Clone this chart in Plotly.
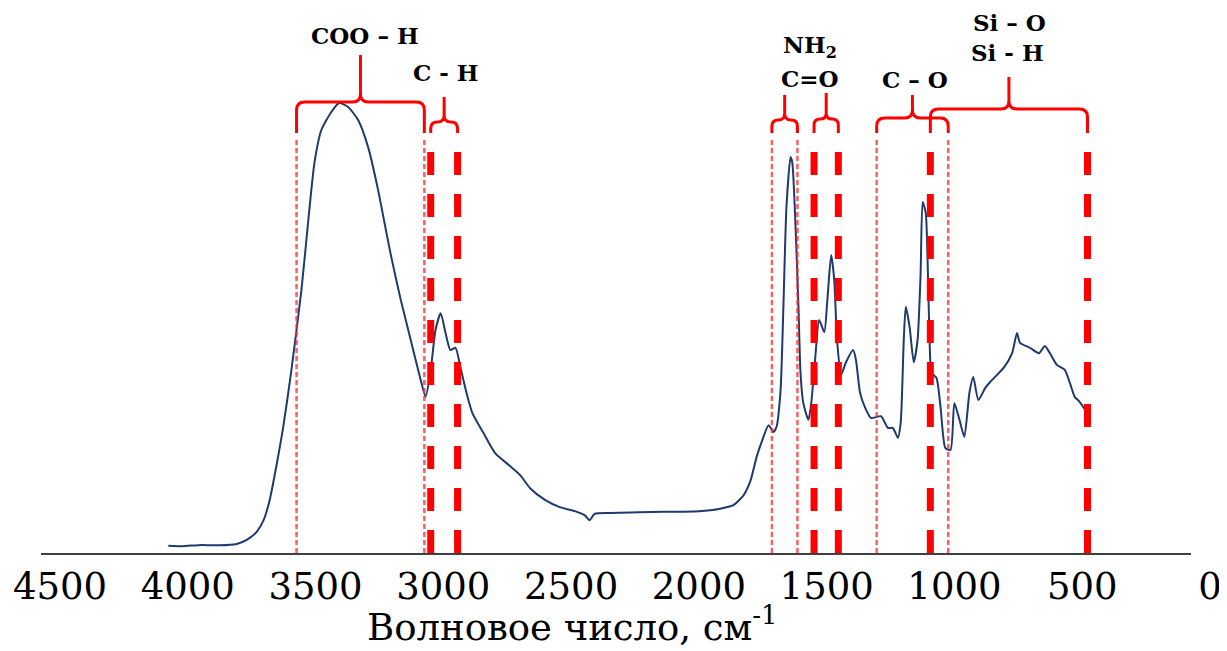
import plotly.graph_objects as go

# ---------------- data ----------------
wavenumber = [4002, 3950, 3870, 3800, 3734, 3695, 3656, 3629, 3605, 3578, 3551, 3520,
              3481, 3454, 3430, 3403, 3364, 3333, 3298, 3259, 3220, 3181, 3158, 3131,
              3092, 3053, 3014, 2995, 2975, 2956, 2936, 2917, 2898, 2878, 2859, 2831,
              2812, 2769, 2723, 2664, 2625, 2586, 2528, 2470, 2411, 2373, 2353, 2334,
              2275, 2120, 1925, 1847, 1789, 1750, 1723, 1700, 1680, 1653, 1634, 1622,
              1606, 1595, 1583, 1567, 1560, 1548, 1536, 1528, 1517, 1497, 1486, 1470,
              1455, 1435, 1423, 1408, 1396, 1385, 1369, 1350, 1322, 1311, 1295, 1276,
              1252, 1213, 1186, 1167, 1147, 1136, 1124, 1116, 1101, 1085, 1070, 1058,
              1050, 1038, 1031, 1023, 1015, 996, 980, 961, 941, 926, 906, 887, 867,
              852, 832, 805, 786, 731, 700, 681, 669, 630, 595, 572, 552, 525, 494,
              474, 455, 436, 408]
intensity = [1.6, 1.5, 1.8, 1.7, 2.0, 2.9, 4.7, 7.3, 11.8, 19.6, 28.4, 40.7,
             58.4, 74.0, 86.7, 94.0, 98.0, 100.0, 99.1, 96.2, 90.2, 80.7, 74.0, 66.2,
             56.2, 47.3, 38.4, 34.7, 40.7, 49.6, 53.3, 48.9, 45.1, 45.6, 41.3, 34.7,
             31.1, 26.7, 22.2, 19.3, 17.3, 14.4, 11.8, 10.2, 9.3, 8.4, 7.3, 8.7,
             8.9, 9.1, 9.3, 9.8, 10.7, 12.9, 16.2, 21.3, 24.7, 28.4, 26.9, 28.0,
             36.2, 54.7, 76.9, 88.0, 86.7, 73.3, 54.7, 40.0, 33.3, 29.6, 33.3, 43.6,
             51.8, 49.1, 56.2, 66.2, 60.7, 47.3, 39.6, 42.4, 45.1, 42.9, 35.6, 32.4,
             30.0, 30.4, 27.8, 27.8, 25.6, 28.9, 47.3, 54.7, 50.2, 42.4, 47.3, 62.2,
             78.0, 75.6, 65.8, 47.3, 40.0, 38.9, 32.4, 23.3, 22.9, 33.3, 29.6, 25.8, 35.6,
             39.1, 34.0, 36.7, 38.0, 41.3, 44.4, 48.9, 46.7, 45.6, 44.4, 46.0, 44.4, 41.8, 40.7,
             37.8, 34.7, 33.6, 31.3]

x_ticks = [4500, 4000, 3500, 3000, 2500, 2000, 1500, 1000, 500, 0]
x_title = "Волновое число, см<sup>-1</sup>"

# band edges (cm-1)
dotted_edges = [3500, 3000, 1640, 1540, 1230, 950]
dashed_edges = [2975, 2870, 1475, 1380, 1020, 405]

# bracket groups: (left edge, right edge)
bracket_bands = [(3500, 3000), (2975, 2870), (1640, 1540), (1475, 1380), (1230, 950), (1020, 405)]

band_labels = ["COO – H", "C - H", "NH<sub>2</sub>", "C=O", "C – O", "Si – O", "Si - H"]
label_wn = [3232, 2917, 1490, 1490, 1081, 712, 720]

# ---------------- geometry (pixels / styles) ----------------
OFF = 8                      # page body margin
W, H = 1227 - OFF, 651 - OFF
L, R, T, B = 38 - OFF, 1195 - OFF, 13 - OFF, 553 - OFF
YMAX = 120
kx = 4500 / (R - L)      # cm-1 per px
ky = YMAX / (B - T)      # units per px


def yv(py_page):
    return (B - (py_page - OFF)) * ky


bracket_geom = [  # (horizontal y px, stem top y px) in page pixels
    (102, 55), (122, 97), (120, 95), (119, 93), (118, 95), (109, 77)
]
leg_bottom_px = 133
line_top_px = 137
label_py = [35, 72, 46, 78, 79, 22, 52]

fig = go.Figure()
fig.add_trace(go.Scatter(x=wavenumber, y=intensity, mode="lines",
                         line=dict(color="#1f3a6e", width=2, shape="spline", smoothing=0.6),
                         hoverinfo="skip", showlegend=False))

shapes = []
for e in dotted_edges:
    shapes.append(dict(type="line", xref="x", yref="y", x0=e, x1=e,
                       y0=0, y1=yv(line_top_px),
                       line=dict(color="rgba(255,40,40,0.75)", width=2.5, dash="5px,3px")))
for e in dashed_edges:
    shapes.append(dict(type="line", xref="x", yref="y", x0=e, x1=e,
                       y0=0, y1=yv(line_top_px),
                       line=dict(color="#ff0000", width=7, dash="23px,19px")))


def brace_path(a, b, yh, yt, yb, rpx):
    c = (a + b) / 2
    rx, ry = rpx * kx, rpx * ky
    p = (f"M {a},{yb} L {a},{yh - ry} Q {a},{yh} {a - rx},{yh} "
         f"L {c + rx},{yh} Q {c},{yh} {c},{yh + ry} L {c},{yt} "
         f"M {c},{yh + ry} Q {c},{yh} {c - rx},{yh} "
         f"L {b + rx},{yh} Q {b},{yh} {b},{yh - ry} L {b},{yb}")
    return p


for (a, b), (hpx, tpx) in zip(bracket_bands, bracket_geom):
    widthpx = (a - b) / kx
    r = min(8, widthpx / 4)
    shapes.append(dict(type="path", xref="x", yref="y",
                       path=brace_path(a, b, yv(hpx), yv(tpx), yv(leg_bottom_px), r),
                       line=dict(color="#ff0000", width=3)))

annotations = []
for txt, wn, py in zip(band_labels, label_wn, label_py):
    annotations.append(dict(x=wn, y=yv(py), xref="x", yref="y", text=txt,
                            showarrow=False, xanchor="center", yanchor="middle",
                            font=dict(family="DejaVu Serif", size=23, color="black",
                                      weight="bold")))
annotations.append(dict(x=(573 - OFF - L) / (R - L), y=(B - (650 - OFF)) / (B - T),
                        xref="paper", yref="paper",
                        text=x_title, showarrow=False, xanchor="center", yanchor="bottom",
                        borderpad=0,
                        font=dict(family="DejaVu Serif", size=37, color="black")))

fig.update_layout(
    width=W, height=H,
    margin=dict(l=L, r=W - R, t=T, b=H - B, pad=0),
    paper_bgcolor="white", plot_bgcolor="white",
    shapes=shapes, annotations=annotations,
    xaxis=dict(range=[4500, 0], tickvals=x_ticks, ticktext=[str(v) for v in x_ticks],
               showgrid=False, zeroline=False, showline=True, linecolor="#404040",
               linewidth=2, ticks="", ticklabelshift=-19, ticklabeloverflow="allow",
               tickfont=dict(family="DejaVu Serif", size=37, color="black")),
    yaxis=dict(range=[0, YMAX], visible=False),
    showlegend=False,
)

fig.write_html("out.html")
